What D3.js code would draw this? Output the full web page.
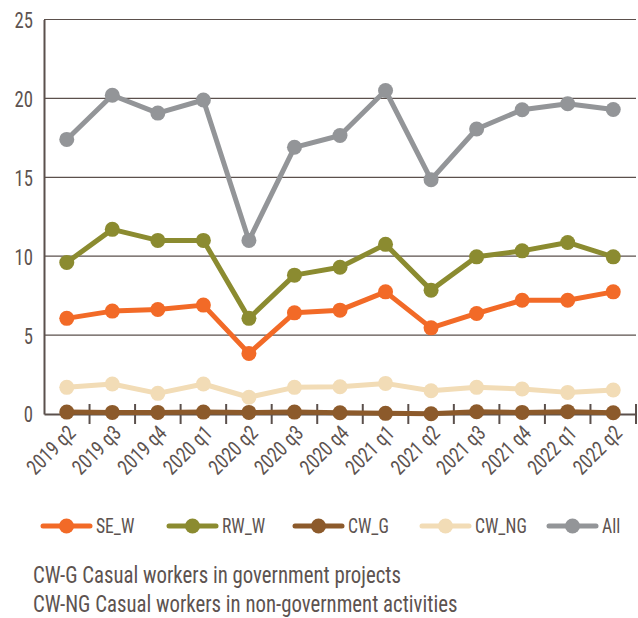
<!DOCTYPE html>
<html><head><meta charset="utf-8">
<script src="https://cdn.jsdelivr.net/npm/d3@7"></script>
<style>
html,body{margin:0;padding:0;background:#fff;}
svg{display:block;}
text{font-family:"Roboto Condensed","Liberation Sans Narrow","DejaVu Sans Condensed","Open Sans Condensed",Roboto,sans-serif;font-stretch:condensed;fill:#5d5350;}
</style></head>
<body><svg id="c" width="638" height="618"></svg>
<script>
const quarters = ["2019 q2","2019 q3","2019 q4","2020 q1","2020 q2","2020 q3","2020 q4","2021 q1","2021 q2","2021 q3","2021 q4","2022 q1","2022 q2"];
const SE_W  = [6.06,6.52,6.62,6.9,3.84,6.41,6.58,7.74,5.46,6.37,7.21,7.21,7.74];
const RW_W  = [9.6,11.7,11.0,11.0,6.06,8.8,9.3,10.75,7.85,9.96,10.34,10.87,9.96];
const CW_G  = [0.12,0.1,0.1,0.12,0.1,0.12,0.08,0.04,0.02,0.14,0.1,0.15,0.08];
const CW_NG = [1.69,1.9,1.31,1.9,1.06,1.69,1.73,1.94,1.47,1.69,1.58,1.37,1.52];
const ALL   = [17.4,20.2,19.07,19.9,11.0,16.9,17.65,20.5,14.85,18.06,19.28,19.66,19.3];
const yTicks = [0,5,10,15,20,25];
const seriesNames = ["SE_W","RW_W","CW_G","CW_NG","All"];
const seriesColors = ["#f26a27","#8b8b30","#8c5a2b","#f2dcb6","#939598"];
const notes = ["CW-G Casual workers in government projects","CW-NG Casual workers in non-government activities"];

const series = [SE_W,RW_W,CW_G,CW_NG,ALL].map((v,i)=>({name:seriesNames[i],color:seriesColors[i],values:v}));
const drawOrder = [4,1,0,3,2];

const svg = d3.select("#c");
const mL=44,mR=636,mT=19.5,mB=414;
const x = d3.scaleBand().domain(quarters).range([mL,mR]);
const y = d3.scaleLinear().domain([0,25]).range([mB,mT]);
const axisColor="#5b504c";

// gridlines
svg.append("g").selectAll("line").data(yTicks.filter(d=>d>0)).join("line")
  .attr("x1",mL).attr("x2",mR).attr("y1",d=>y(d)).attr("y2",d=>y(d))
  .attr("stroke",axisColor).attr("stroke-width",1.2);

// y axis
const yAxis = svg.append("g").attr("transform",`translate(${mL},0)`)
  .call(d3.axisLeft(y).tickValues(yTicks).tickSize(0));
yAxis.select(".domain").attr("stroke",axisColor).attr("stroke-width",2);
yAxis.selectAll("text").attr("font-size",22).style("fill","#5d5350")
  .attr("x",0).attr("dy","0.36em").attr("text-anchor","end")
  .attr("transform","translate(-11,0) scale(0.85,1)");

// x axis
const xAxis = svg.append("g").attr("transform",`translate(0,${mB})`)
  .call(d3.axisBottom(x).tickSize(0));
xAxis.select(".domain").attr("stroke",axisColor).attr("stroke-width",2);
xAxis.selectAll(".tick line").remove();
xAxis.selectAll("text")
  .attr("font-size",21).style("fill","#5d5350")
  .attr("text-anchor","end")
  .attr("transform","translate(5,15) rotate(-45) scale(0.88,1)")
  .attr("dy","0.35em").attr("y",0).attr("x",0);
// boundary ticks
const bounds = quarters.map(q=>x(q)).concat([mR]).slice(1);
svg.append("g").selectAll("line").data(bounds).join("line")
  .attr("x1",d=>d).attr("x2",d=>d).attr("y1",mB-10).attr("y2",mB+10)
  .attr("stroke",axisColor).attr("stroke-width",2);

const cx = q=>x(q)+x.bandwidth()/2;
const line = d3.line().x((d,i)=>cx(quarters[i])).y(d=>y(d));

drawOrder.forEach(k=>{
  const s=series[k];
  const g=svg.append("g");
  g.append("path").datum(s.values).attr("d",line).attr("fill","none")
    .attr("stroke",s.color).attr("stroke-width",5).attr("stroke-linejoin","round");
  g.selectAll("circle").data(s.values).join("circle")
    .attr("cx",(d,i)=>cx(quarters[i])).attr("cy",d=>y(d)).attr("r",7.5).attr("fill",s.color);
});

// legend
const legX=[43,169,295,422,549];
const lg = svg.append("g");
series.forEach((s,i)=>{
  const g=lg.append("g").attr("transform",`translate(${legX[i]},526)`);
  g.append("line").attr("x1",0).attr("x2",47).attr("stroke",s.color).attr("stroke-width",5).attr("stroke-linecap","round");
  g.append("circle").attr("cx",23.5).attr("r",7.5).attr("fill",s.color);
  g.append("text").attr("x",0).attr("dy","0.36em").attr("font-size",20)
    .attr("transform","translate(53,0) scale(0.88,1)").text(s.name);
});

// notes
svg.append("g").selectAll("text").data(notes).join("text")
  .attr("x",0).attr("font-size",23)
  .attr("transform",(d,i)=>`translate(33,${583+i*29}) scale(0.905,1)`).text(d=>d);
</script></body></html>
